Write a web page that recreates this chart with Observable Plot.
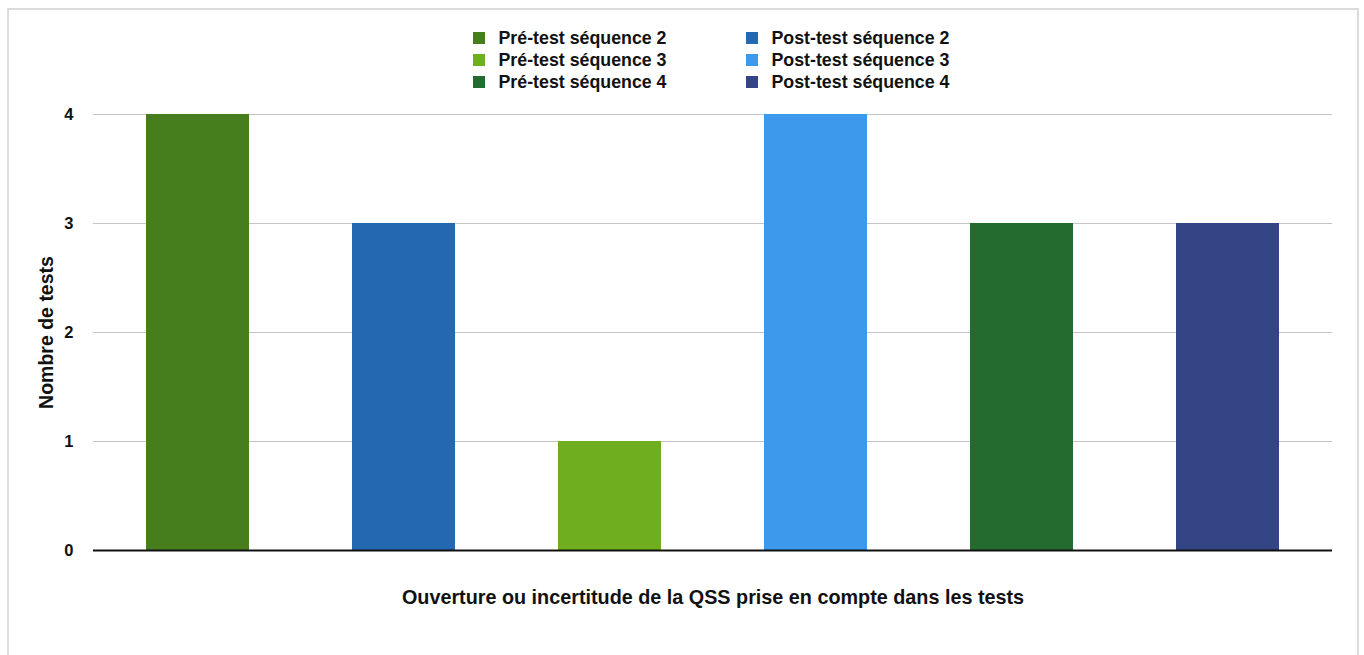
<!DOCTYPE html>
<html>
<head>
<meta charset="utf-8">
<script src="https://cdn.jsdelivr.net/npm/d3@7"></script>
<script src="https://cdn.jsdelivr.net/npm/@observablehq/plot@0.6"></script>
<style>
  html, body { margin: 0; padding: 0; background: #fff; width: 1364px; height: 655px; overflow: hidden; }
  #wrap { position: relative; width: 1364px; height: 655px; font-family: "Liberation Sans", Arial, Helvetica, sans-serif; }
  #frame { position: absolute; left: 7px; top: 8px; width: 1352px; height: 700px; border: 2px solid #dcdcdc; box-sizing: border-box; }
  #legend { position: absolute; left: 0; top: 0; width: 1364px; height: 100px; }
  .li { position: absolute; font-weight: bold; font-size: 17.8px; color: #111; line-height: 17.8px; white-space: nowrap; }
  .sw { position: absolute; width: 12px; height: 12px; }
  #chart { position: absolute; left: 0; top: 100px; }
</style>
</head>
<body>
<div id="wrap">
  <div id="frame"></div>
  <div id="legend"></div>
  <div id="chart"></div>
</div>
<script>
const categories = ["Pré-test séquence 2", "Post-test séquence 2", "Pré-test séquence 3", "Post-test séquence 3", "Pré-test séquence 4", "Post-test séquence 4"];
const values = [4, 3, 1, 4, 3, 3];
const colors = ["#467e1e", "#2568b2", "#6eae1f", "#3c99ec", "#236b2f", "#334585"];
const yTicks = [0, 1, 2, 3, 4];
const legendOrder = [
  ["Pré-test séquence 2", "Post-test séquence 2"],
  ["Pré-test séquence 3", "Post-test séquence 3"],
  ["Pré-test séquence 4", "Post-test séquence 4"]
];
const xTitle = "Ouverture ou incertitude de la QSS prise en compte dans les tests";
const yTitle = "Nombre de tests";

const data = categories.map((c, i) => ({category: c, value: values[i]}));

// Legend (HTML)
const legend = document.getElementById("legend");
const colX = [473, 746];
legendOrder.forEach((row, r) => {
  row.forEach((name, c) => {
    const sw = document.createElement("div");
    sw.className = "sw";
    sw.style.left = colX[c] + "px";
    sw.style.top = (32 + r * 21.8) + "px";
    sw.style.background = colors[categories.indexOf(name)];
    legend.appendChild(sw);
    const t = document.createElement("div");
    t.className = "li";
    t.style.left = (colX[c] + 25.5) + "px";
    t.style.top = (30 + r * 21.8) + "px";
    t.textContent = name;
    legend.appendChild(t);
  });
});

const chart = Plot.plot({
  width: 1364,
  height: 555,
  marginTop: 14,
  marginBottom: 105,
  marginLeft: 93,
  marginRight: 32,
  style: {fontFamily: "'Liberation Sans', Arial, sans-serif", background: "transparent"},
  x: {domain: categories, paddingInner: 0.5, paddingOuter: 0.25, axis: null},
  y: {domain: [0, 4], ticks: yTicks, label: null},
  color: {domain: categories, range: colors},
  marks: [
    Plot.gridY(yTicks.filter(d => d > 0), {stroke: "#c4c4c4", strokeOpacity: 1, strokeWidth: 1}),
    Plot.barY(data, {x: "category", y: "value", fill: "category"}),
    Plot.ruleY([0], {stroke: "#111", strokeWidth: 2}),
    Plot.axisY(yTicks, {tickSize: 0, tickPadding: 20, tickFormat: "d", fontSize: 16.5, fontWeight: "bold", fill: "#111", label: null}),
    Plot.text([xTitle], {frameAnchor: "bottom", dy: 53, fontSize: 19.8, fontWeight: "bold", fill: "#111"}),
    Plot.text([yTitle], {frameAnchor: "left", textAnchor: "middle", dx: -47, rotate: -90, fontSize: 19.5, fontWeight: "bold", fill: "#111"})
  ]
});
document.getElementById("chart").appendChild(chart);
</script>
</body>
</html>
